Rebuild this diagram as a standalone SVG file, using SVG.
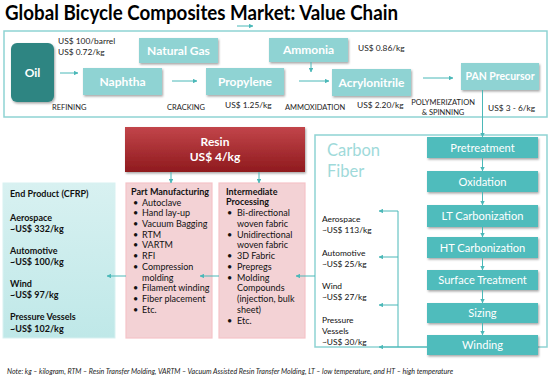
<svg xmlns="http://www.w3.org/2000/svg" width="551" height="384" viewBox="0 0 551 384">
<defs>
<filter id="sh" x="-10%" y="-10%" width="125%" height="135%"><feDropShadow dx="1" dy="1.5" stdDeviation="0.9" flood-color="#000" flood-opacity="0.35"/></filter>
<linearGradient id="red" x1="0" y1="0" x2="0" y2="1"><stop offset="0" stop-color="#c2454a"/><stop offset="1" stop-color="#8f1a1e"/></linearGradient>
<linearGradient id="cyan" x1="0" y1="0" x2="0" y2="1"><stop offset="0" stop-color="#d8f1f1"/><stop offset="1" stop-color="#bfe8e8"/></linearGradient>
<marker id="ah" viewBox="0 0 6 6" refX="5.5" refY="3" markerWidth="4.5" markerHeight="4.5" orient="auto"><path d="M0,0L6,3L0,6z" fill="#4bb8b8"/></marker>
</defs>
<style>
text{font-family:Lato,"Open Sans","Liberation Sans",sans-serif;}
.t{font-weight:bold;font-size:20px;fill:#000;}
.lb{fill:#8fd3d3;filter:url(#sh);}
.lbt{fill:#fff;font-weight:bold;font-size:12px;text-anchor:middle;}
.pb{fill:#50bcbc;filter:url(#sh);}
.pbt{fill:#fff;font-size:11.1px;text-anchor:middle;}
.sm{font-size:8.4px;fill:#222;}
.cap{font-size:7.5px;fill:#222;}
.c{stroke:#4bb8b8;stroke-width:1;fill:none;}
.ca{stroke:#4bb8b8;stroke-width:1;fill:none;marker-end:url(#ah);}
.frame{fill:none;stroke:#8fd3d3;stroke-width:1.5;}
.bt{font-size:9px;fill:#111;}
.bb{font-size:9px;fill:#111;font-weight:bold;}
.cf{font-size:8.4px;fill:#111;}
</style>
<text class="t" x="5" y="20" textLength="393" lengthAdjust="spacingAndGlyphs">Global Bicycle Composites Market: Value Chain</text>

<g id="frames">
<rect class="frame" x="4" y="31" width="543" height="86"/>
<rect class="frame" x="315" y="135" width="232" height="212"/>
</g>

<g id="oil"><rect x="11" y="43" width="43" height="59" rx="6" fill="#2f8582" filter="url(#sh)"/><text class="lbt" x="32.5" y="77">Oil</text></g>
<g id="naphtha"><rect class="lb" x="83" y="68" width="79" height="27"/><text class="lbt" x="122.5" y="85.5">Naphtha</text></g>
<g id="natural-gas"><rect class="lb" x="139" y="38" width="79" height="25"/><text class="lbt" x="178.5" y="54.5">Natural Gas</text></g>
<g id="propylene"><rect class="lb" x="206" y="68" width="78" height="27"/><text class="lbt" x="245" y="85.5">Propylene</text></g>
<g id="ammonia"><rect class="lb" x="269" y="38" width="79" height="24"/><text class="lbt" x="308.5" y="54">Ammonia</text></g>
<g id="acrylonitrile"><rect class="lb" x="332" y="69" width="79" height="27"/><text class="lbt" x="371.5" y="86.5">Acrylonitrile</text></g>
<g id="pan"><rect class="lb" x="461" y="63" width="78" height="27"/><text class="lbt" x="500" y="80" style="font-size:10.5px">PAN Precursor</text></g>

<g id="labels-top">
<text class="sm" x="58" y="44">US$ 100/barrel</text>
<text class="sm" x="58" y="55">US$ 0.72/kg</text>
<text class="cap" x="52" y="110">REFINING</text>
<text class="cap" x="167" y="110">CRACKING</text>
<text class="sm" x="225" y="108">US$ 1.25/kg</text>
<text class="sm" x="358" y="51">US$ 0.86/kg</text>
<text class="cap" x="285" y="110">AMMOXIDATION</text>
<text class="sm" x="357" y="108">US$ 2.20/kg</text>
<text class="cap" x="443" y="105" text-anchor="middle">POLYMERIZATION</text>
<text class="cap" x="443" y="115" text-anchor="middle">&amp; SPINNING</text>
<text class="sm" x="488" y="111">US$ 3 - 6/kg</text>
</g>

<g id="carbon-fiber">
<text x="327" y="156" style="font-size:16.5px;fill:#9fdada">Carbon</text>
<text x="327" y="177" style="font-size:16.5px;fill:#9fdada">Fiber</text>
</g>
<g id="pretreatment"><rect class="pb" x="427" y="137" width="111" height="21"/><text class="pbt" x="482.5" y="151.5">Pretreatment</text></g>
<g id="oxidation"><rect class="pb" x="427" y="171" width="111" height="21"/><text class="pbt" x="482.5" y="185.5">Oxidation</text></g>
<g id="lt-carbonization"><rect class="pb" x="427" y="205" width="111" height="22"/><text class="pbt" x="482.5" y="220">LT Carbonization</text></g>
<g id="ht-carbonization"><rect class="pb" x="427" y="237" width="111" height="21"/><text class="pbt" x="482.5" y="251.5">HT Carbonization</text></g>
<g id="surface-treatment"><rect class="pb" x="427" y="270" width="111" height="20"/><text class="pbt" x="482.5" y="284">Surface Treatment</text></g>
<g id="sizing"><rect class="pb" x="427" y="303" width="111" height="20"/><text class="pbt" x="482.5" y="317">Sizing</text></g>
<g id="winding"><rect class="pb" x="427" y="335" width="111" height="20"/><text class="pbt" x="482.5" y="349">Winding</text></g>

<g id="cf-prices">
<text class="cf" x="322" y="222">Aerospace</text>
<text class="cf" x="322" y="233">~US$ 113/kg</text>
<text class="cf" x="322" y="256">Automotive</text>
<text class="cf" x="322" y="267">~US$ 25/kg</text>
<text class="cf" x="322" y="289">Wind</text>
<text class="cf" x="322" y="300">~US$ 27/kg</text>
<text class="cf" x="322" y="323">Pressure</text>
<text class="cf" x="322" y="334">Vessels</text>
<text class="cf" x="322" y="345">~US$ 30/kg</text>
</g>

<g id="resin"><rect x="125" y="127" width="180" height="45" fill="url(#red)" filter="url(#sh)"/><text class="lbt" x="215" y="146">Resin</text><text class="lbt" x="215" y="161">US$ 4/kg</text></g>

<g id="end-product">
<rect x="3" y="183" width="112" height="155" fill="url(#cyan)" stroke="#d8f1f1" stroke-width="1"/>
<text class="bb" x="10" y="197">End Product (CFRP)</text>
<text class="bb" x="10" y="221">Aerospace</text>
<text class="bb" x="10" y="231.5">~US$ 332/kg</text>
<text class="bb" x="10" y="254">Automotive</text>
<text class="bb" x="10" y="265">~US$ 100/kg</text>
<text class="bb" x="10" y="287">Wind</text>
<text class="bb" x="10" y="298">~US$ 97/kg</text>
<text class="bb" x="10" y="320">Pressure Vessels</text>
<text class="bb" x="10" y="332">~US$ 102/kg</text>
</g>

<g id="part-manufacturing">
<rect x="126" y="183" width="86" height="155" fill="#f3d2d5" stroke="#f6c3c8" stroke-width="1.2"/>
<text class="bb" x="131" y="194.5">Part Manufacturing</text>
<g class="bt">
<text x="133" y="205.5">•</text><text x="142" y="205.5">Autoclave</text>
<text x="133" y="216">•</text><text x="142" y="216">Hand lay-up</text>
<text x="133" y="226.5">•</text><text x="142" y="226.5">Vacuum Bagging</text>
<text x="133" y="237.5">•</text><text x="142" y="237.5">RTM</text>
<text x="133" y="248">•</text><text x="142" y="248">VARTM</text>
<text x="133" y="258.5">•</text><text x="142" y="258.5">RFI</text>
<text x="133" y="269.5">•</text><text x="142" y="269.5">Compression</text>
<text x="142" y="280.5">molding</text>
<text x="133" y="291">•</text><text x="142" y="291">Filament winding</text>
<text x="133" y="301.5">•</text><text x="142" y="301.5">Fiber placement</text>
<text x="133" y="312.5">•</text><text x="142" y="312.5">Etc.</text>
</g>
</g>

<g id="intermediate-processing">
<rect x="219" y="183" width="86" height="155" fill="#f3d2d5" stroke="#f6c3c8" stroke-width="1.2"/>
<text class="bb" x="226" y="194.5">Intermediate</text>
<text class="bb" x="226" y="205">Processing</text>
<g class="bt">
<text x="227" y="216">•</text><text x="237" y="216">Bi-directional</text>
<text x="237" y="226.5">woven fabric</text>
<text x="227" y="237.5">•</text><text x="237" y="237.5">Unidirectional</text>
<text x="237" y="248">woven fabric</text>
<text x="227" y="258.5">•</text><text x="237" y="258.5">3D Fabric</text>
<text x="227" y="269.5">•</text><text x="237" y="269.5">Prepregs</text>
<text x="227" y="280.5">•</text><text x="237" y="280.5">Molding</text>
<text x="237" y="291">Compounds</text>
<text x="237" y="301.5">(injection, bulk</text>
<text x="237" y="312.5">sheet)</text>
<text x="227" y="323.5">•</text><text x="237" y="323.5">Etc.</text>
</g>
</g>

<g id="connectors">
<line class="ca" x1="237" y1="26" x2="253" y2="26"/>
<line class="ca" x1="60" y1="73" x2="78" y2="73"/>
<line class="ca" x1="172" y1="81" x2="197" y2="81"/>
<line class="ca" x1="311" y1="62" x2="311" y2="72"/>
<line class="ca" x1="299" y1="81" x2="329" y2="81"/>
<line class="ca" x1="423" y1="78" x2="453" y2="78"/>
<line class="ca" x1="482.5" y1="90" x2="482.5" y2="137"/>
<line class="ca" x1="482.5" y1="158" x2="482.5" y2="171"/>
<line class="ca" x1="482.5" y1="192" x2="482.5" y2="205"/>
<line class="ca" x1="482.5" y1="227" x2="482.5" y2="237"/>
<line class="ca" x1="482.5" y1="258" x2="482.5" y2="270"/>
<line class="ca" x1="482.5" y1="290" x2="482.5" y2="303"/>
<line class="ca" x1="482.5" y1="323" x2="482.5" y2="335"/>
<line class="c" x1="398" y1="211" x2="398" y2="347"/>
<line class="ca" x1="398" y1="211" x2="379" y2="211"/>
<line class="ca" x1="398" y1="257" x2="379" y2="257"/>
<line class="ca" x1="398" y1="305" x2="379" y2="305"/>
<line class="ca" x1="427" y1="347" x2="379" y2="347"/>
<line class="ca" x1="315" y1="276" x2="296" y2="276"/>
<line class="ca" x1="219" y1="276" x2="200" y2="276"/>
<line class="ca" x1="126" y1="276" x2="107" y2="276"/>
<line class="ca" x1="171" y1="172" x2="171" y2="183"/>
<line class="ca" x1="259" y1="172" x2="259" y2="183"/>
</g>

<text x="7" y="374" style="font-size:7.1px;font-style:italic;fill:#222">Note: kg – kilogram, RTM – Resin Transfer Molding, VARTM – Vacuum Assisted Resin Transfer Molding, LT – low temperature, and HT – high temperature</text>
</svg>
